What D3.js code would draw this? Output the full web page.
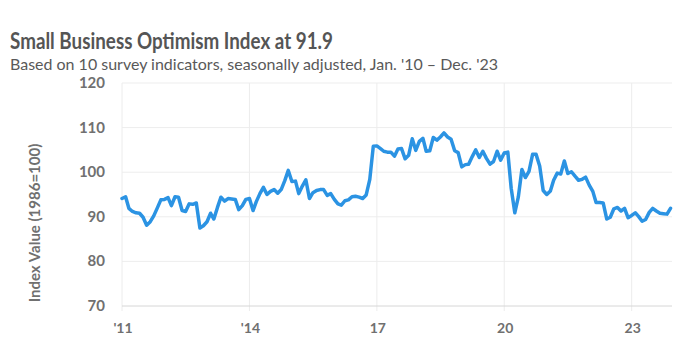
<!DOCTYPE html>
<html>
<head>
<meta charset="utf-8">
<script src="https://cdn.jsdelivr.net/npm/d3@7"></script>
<style>
  body { margin: 0; background: #fff; }
  text { font-family: "Lato", "Open Sans", sans-serif; }
</style>
</head>
<body>
<div id="chart"></div>
<script>
// NFIB optimism index, monthly, Jan 2011 .. Dec 2023
const startMonth = "2011-01";
const indexValues = [
  94.1, 94.5, 91.9, 91.2, 90.9, 90.8, 89.9, 88.1, 88.9, 90.2, 92.0, 93.8, // 2011
  93.9, 94.3, 92.5, 94.5, 94.4, 91.4, 91.2, 92.9, 92.8, 93.1, 87.5, 88.0, // 2012
  88.9, 90.8, 89.5, 92.1, 94.4, 93.5, 94.1, 94.0, 93.9, 91.6, 92.5, 93.9, // 2013
  94.1, 91.4, 93.4, 95.2, 96.6, 95.0, 95.7, 96.1, 95.3, 96.1, 98.1, 100.4, // 2014
  97.9, 98.0, 95.2, 96.9, 98.3, 94.1, 95.4, 95.9, 96.1, 96.1, 94.8, 95.2, // 2015
  93.9, 92.9, 92.6, 93.6, 93.8, 94.5, 94.6, 94.4, 94.1, 94.9, 98.4, 105.8, // 2016
  105.9, 105.3, 104.7, 104.5, 104.5, 103.6, 105.2, 105.3, 103.0, 103.8, 107.5, 104.9, // 2017
  106.9, 107.6, 104.7, 104.8, 107.8, 107.2, 107.9, 108.8, 107.9, 107.4, 104.8, 104.4, // 2018
  101.2, 101.7, 101.8, 103.5, 105.0, 103.3, 104.7, 103.1, 101.8, 102.4, 104.7, 102.7, // 2019
  104.3, 104.5, 96.4, 90.9, 94.4, 100.6, 98.8, 100.2, 104.0, 104.0, 101.4, 95.9, // 2020
  95.0, 95.8, 98.2, 99.8, 99.6, 102.5, 99.7, 100.1, 99.1, 98.2, 98.4, 98.9, // 2021
  97.1, 95.7, 93.2, 93.2, 93.1, 89.5, 89.9, 91.8, 92.1, 91.3, 91.9, 89.8, // 2022
  90.3, 90.9, 90.1, 89.0, 89.4, 91.0, 91.9, 91.3, 90.8, 90.7, 90.6, 91.9  // 2023
];
const yTicks = [70, 80, 90, 100, 110, 120];
const xTickYears = [2011, 2014, 2017, 2020, 2023];
const xTickLabels = ["'11", "'14", "17", "20", "23"];

const titleText = "Small Business Optimism Index at 91.9";
const subtitleText = "Based on 10 survey indicators, seasonally adjusted,  Jan. '10 \u2013 Dec. '23";
const yLabelText = "Index Value (1986=100)";

const width = 683, height = 353;
const plotLeft = 122, plotRight = 672, plotTop = 83, plotBottom = 306;

const parseMonth = d3.timeParse("%Y-%m");
const start = parseMonth(startMonth);
const data = indexValues.map((v, i) => ({ date: d3.timeMonth.offset(start, i), value: v }));

const x = d3.scaleTime()
    .domain([start, d3.timeMonth.offset(start, 155)])
    .range([plotLeft, 670.5]);
const y = d3.scaleLinear().domain([70, 120]).range([plotBottom, plotTop]);

const svg = d3.select("#chart").append("svg")
    .attr("width", width)
    .attr("height", height);

// titles
svg.append("text")
    .attr("x", 10).attr("y", 49)
    .attr("fill", "#555")
    .style("font-size", "23px").style("font-weight", "bold")
    .attr("textLength", 323).attr("lengthAdjust", "spacingAndGlyphs")
    .text(titleText);

svg.append("text")
    .attr("x", 10).attr("y", 70)
    .attr("fill", "#595959")
    .style("font-size", "16px")
    .attr("textLength", 488).attr("lengthAdjust", "spacingAndGlyphs")
    .text(subtitleText);

// grid
svg.append("g").selectAll("line")
    .data(yTicks.slice(1))
    .join("line")
    .attr("x1", plotLeft).attr("x2", plotRight)
    .attr("y1", d => y(d)).attr("y2", d => y(d))
    .attr("stroke", "#ededed").attr("stroke-width", 1);

svg.append("g").selectAll("line")
    .data(xTickYears)
    .join("line")
    .attr("x1", d => x(new Date(d, 0, 1))).attr("x2", d => x(new Date(d, 0, 1)))
    .attr("y1", plotTop).attr("y2", plotBottom + 5)
    .attr("stroke", "#ececec").attr("stroke-width", 1);

// x axis line
svg.append("line")
    .attr("x1", plotLeft).attr("x2", plotRight)
    .attr("y1", y(70)).attr("y2", y(70))
    .attr("stroke", "#d6d6d6").attr("stroke-width", 1);

// y tick labels
svg.append("g").selectAll("text")
    .data(yTicks)
    .join("text")
    .attr("x", 105).attr("y", d => y(d) + 5)
    .attr("text-anchor", "end")
    .attr("fill", "#707070")
    .style("font-size", "15px").style("font-weight", "bold")
    .text(d => d);

// x tick labels
svg.append("g").selectAll("text")
    .data(xTickYears)
    .join("text")
    .attr("x", d => x(new Date(d, 0, 1)) + 1).attr("y", 333)
    .attr("text-anchor", "middle")
    .attr("fill", "#707070")
    .style("font-size", "14px").style("font-weight", "bold")
    .text((d, i) => xTickLabels[i]);

// y axis title
svg.append("text")
    .attr("transform", "translate(40, 223) rotate(-90)")
    .attr("text-anchor", "middle")
    .attr("fill", "#707070")
    .style("font-size", "15px").style("font-weight", "bold")
    .text(yLabelText);

// the line
const line = d3.line()
    .x(d => x(d.date))
    .y(d => y(d.value));

svg.append("path")
    .datum(data)
    .attr("d", line)
    .attr("fill", "none")
    .attr("stroke", "#2b93e3")
    .attr("stroke-width", 3.5)
    .attr("stroke-linejoin", "round")
    .attr("stroke-linecap", "round");
</script>
</body>
</html>
